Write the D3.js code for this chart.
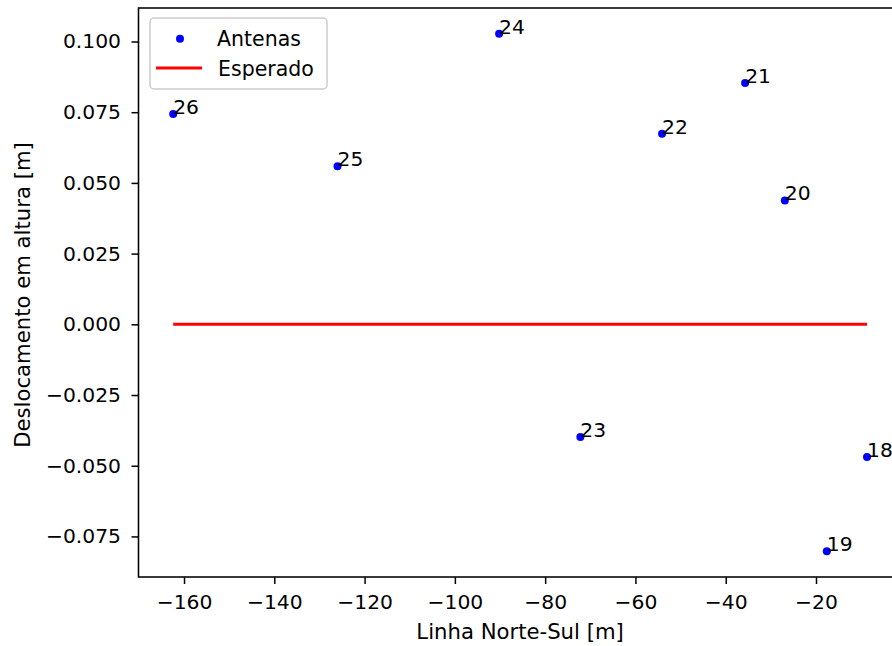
<!DOCTYPE html>
<html>
<head>
<meta charset="utf-8">
<script src="https://cdn.jsdelivr.net/npm/d3@7"></script>
<style>
  body { margin: 0; background: #fff; }
  svg { display: block; font-family: "DejaVu Sans", sans-serif; overflow: hidden; }
</style>
</head>
<body>
<script>
// antenna positions
const antennaIds = ["18", "19", "20", "21", "22", "23", "24", "25", "26"];
const northSouth = [-8.7, -17.6, -26.9, -35.7, -54.1, -72.2, -90.2, -126.0, -162.4];
const heightShift = [-0.0469, -0.0802, 0.0438, 0.0853, 0.0674, -0.0398, 0.1027, 0.0559, 0.0744];
const expectedX = [-162.4, -8.7];
const expectedY = [0, 0];
const xTicks = [-160, -140, -120, -100, -80, -60, -40, -20];
const yTicks = [-0.075, -0.050, -0.025, 0.000, 0.025, 0.050, 0.075, 0.100];

let width = 892, height = 646;
let plotL = 138.5, plotR = 901.7, plotT = 8, plotB = 577;
const fs = 20.3, labelFs = 21.2;

let svg = d3.select("body").append("svg")
  .attr("width", width).attr("height", height);

// 5% margins like matplotlib
function padded(vals) {
  let e = d3.extent(vals), m = (e[1] - e[0]) * 0.05;
  return [e[0] - m, e[1] + m];
}

let x = d3.scaleLinear().domain(padded(northSouth)).range([plotL, plotR]);
let y = d3.scaleLinear().domain(padded(heightShift)).range([plotB, plotT]);

// expected line
let line = d3.line().x((d, i) => x(d)).y((d, i) => y(expectedY[i]));
svg.append("path")
  .attr("d", line(expectedX))
  .attr("fill", "none")
  .attr("stroke", "#ff0000")
  .attr("stroke-width", 2.9);

// points
svg.append("g").selectAll("circle")
  .data(northSouth)
  .join("circle")
  .attr("cx", d => x(d))
  .attr("cy", (d, i) => y(heightShift[i]))
  .attr("r", 4)
  .attr("fill", "#0000ff");

// labels
svg.append("g").selectAll("text")
  .data(antennaIds)
  .join("text")
  .attr("x", (d, i) => x(northSouth[i]))
  .attr("y", (d, i) => y(heightShift[i]))
  .attr("font-size", fs)
  .attr("fill", "#000")
  .text(d => d);

// axes
let xAxis = d3.axisBottom(x).tickValues(xTicks).tickFormat(d3.format("d"))
  .tickSize(7).tickPadding(11);
let yAxis = d3.axisLeft(y).tickValues(yTicks).tickFormat(d3.format(".3f"))
  .tickSize(7).tickPadding(10.5);

let gx = svg.append("g").attr("transform", `translate(0,${plotB})`).call(xAxis);
let gy = svg.append("g").attr("transform", `translate(${plotL},0)`).call(yAxis);
[gx, gy].forEach(g => {
  g.select(".domain").remove();
  g.selectAll(".tick line").attr("stroke", "#000").attr("stroke-width", 1.5);
  g.selectAll(".tick text").attr("font-size", fs).attr("fill", "#000")
    .attr("font-family", "DejaVu Sans, sans-serif");
});

// frame
svg.append("rect")
  .attr("x", plotL).attr("y", plotT)
  .attr("width", plotR - plotL).attr("height", plotB - plotT)
  .attr("fill", "none").attr("stroke", "#000").attr("stroke-width", 1.55);

// axis labels
svg.append("text")
  .attr("x", (plotL + plotR) / 2).attr("y", 639)
  .attr("text-anchor", "middle").attr("font-size", labelFs)
  .text("Linha Norte-Sul [m]");
svg.append("text")
  .attr("transform", `translate(30,295) rotate(-90)`)
  .attr("text-anchor", "middle").attr("font-size", labelFs)
  .text("Deslocamento em altura [m]");

// legend
let lg = svg.append("g");
lg.append("rect")
  .attr("x", 150).attr("y", 18).attr("width", 177).attr("height", 71)
  .attr("rx", 4).attr("fill", "#fff").attr("fill-opacity", 0.8)
  .attr("stroke", "#cccccc").attr("stroke-width", 1.5);
lg.append("circle").attr("cx", 180).attr("cy", 38.7).attr("r", 4).attr("fill", "#0000ff");
lg.append("text").attr("x", 217).attr("y", 46).attr("font-size", 20.5).text("Antenas");
lg.append("line").attr("x1", 156).attr("x2", 202).attr("y1", 68).attr("y2", 68)
  .attr("stroke", "#ff0000").attr("stroke-width", 2.9);
lg.append("text").attr("x", 218).attr("y", 76).attr("font-size", 20.5).text("Esperado");
</script>
</body>
</html>
